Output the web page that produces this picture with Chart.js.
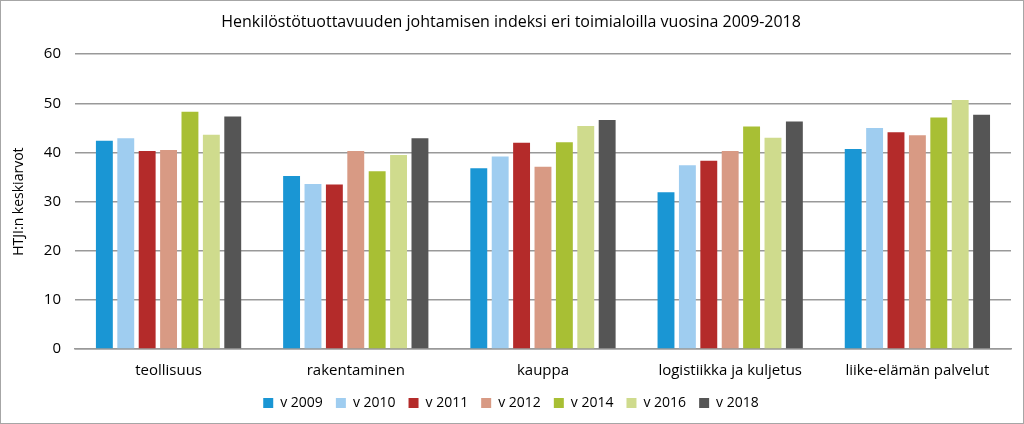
<!DOCTYPE html>
<html>
<head>
<meta charset="utf-8">
<script src="https://cdn.jsdelivr.net/npm/chart.js@4"></script>
<style>
	html, body { margin: 0; padding: 0; background: #fff; }
	#wrap { width: 1022px; height: 422px; border: 1px solid #a6a6a6; position: relative; }
</style>
</head>
<body>
<div id="wrap"><canvas id="mycanvas" width="1022" height="422"></canvas></div>
<script>
// ** Henkilöstötuottavuuden johtamisen indeksi, grouped bars

var categories = ['teollisuus', 'rakentaminen', 'kauppa', 'logistiikka ja kuljetus', 'liike-elämän palvelut'];
var years = ['v 2009', 'v 2010', 'v 2011', 'v 2012', 'v 2014', 'v 2016', 'v 2018'];
var colors = ['#1a96d4', '#9fcdf0', '#b42b2a', '#d89a84', '#a8bf34', '#cfdb8d', '#555555'];

var v2009 = [42.4, 35.2, 36.8, 31.9, 40.7];
var v2010 = [42.9, 33.6, 39.2, 37.4, 45.0];
var v2011 = [40.3, 33.5, 42.0, 38.3, 44.1];
var v2012 = [40.5, 40.3, 37.1, 40.3, 43.5];
var v2014 = [48.3, 36.2, 42.1, 45.3, 47.1];
var v2016 = [43.6, 39.5, 45.4, 43.0, 50.7];
var v2018 = [47.3, 42.9, 46.6, 46.3, 47.7];

var yTicks = [0, 10, 20, 30, 40, 50, 60];

var series = [v2009, v2010, v2011, v2012, v2014, v2016, v2018];
var fontFam = "'Open Sans', 'Noto Sans', sans-serif";

var datasets = [];
for (var i in series) {
	datasets.push({
		label: years[i],
		backgroundColor: colors[i],
		borderWidth: 0,
		data: series[i],
		categoryPercentage: 0.8,
		barPercentage: 0.79
	});
}

var ctx = document.getElementById('mycanvas');

var barGraph = new Chart(ctx, {
	type: 'bar',
	data: { labels: categories, datasets: datasets },
	options: {
		responsive: false,
		animation: false,
		layout: { padding: { left: 10, right: 12, top: 8, bottom: 3 } },
		scales: {
			x: {
				grid: { display: false, drawTicks: false },
				border: { color: '#999', width: 1.5 },
				ticks: { color: '#000', font: { family: fontFam, size: 15 }, padding: 13 },
				afterFit: function(scale) { scale.height = 34; }
			},
			y: {
				min: 0,
				max: 60,
				afterBuildTicks: function(axis) {
					axis.ticks = yTicks.map(function(v) { return { value: v }; });
				},
				grid: { color: '#999', lineWidth: 1.5, drawTicks: false },
				border: { display: false },
				ticks: { color: '#000', font: { family: fontFam, size: 15 }, padding: 14 },
				title: {
					display: true,
					text: 'HTJI:n keskiarvot',
					color: '#000',
					font: { family: fontFam, size: 14 },
					padding: { top: 0, bottom: 2 }
				}
			}
		},
		plugins: {
			legend: {
				position: 'bottom',
				labels: {
					color: '#000',
					font: { family: fontFam, size: 14 },
					boxWidth: 10,
					boxHeight: 10,
					padding: 13
				}
			},
			title: {
				display: true,
				text: 'Henkilöstötuottavuuden johtamisen indeksi eri toimialoilla vuosina 2009-2018',
				color: '#000',
				font: { family: fontFam, size: 16, weight: 'normal' },
				padding: { top: 4, bottom: 22 }
			},
			tooltip: { enabled: false }
		}
	}
});
</script>
</body>
</html>
